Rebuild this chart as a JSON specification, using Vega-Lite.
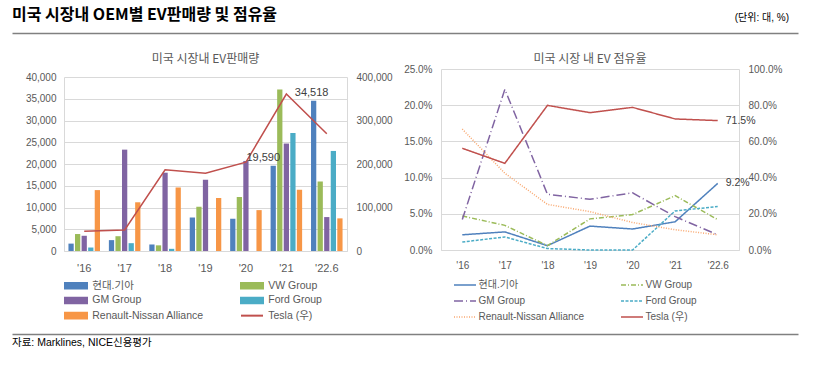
{
  "$schema": "https://vega.github.io/schema/vega-lite/v6.json",
  "background": "white",
  "padding": {"left": 12, "top": 7, "right": 5, "bottom": 5},
  "config": {
    "view": {"stroke": null},
    "font": "Liberation Sans, Noto Sans CJK KR",
    "axis": {"labelFont": "Liberation Sans, Noto Sans CJK KR", "labelColor": "#595959", "ticks": false, "title": null, "domainColor": "#D9D9D9", "gridColor": "#D9D9D9", "labelFontSize": 10},
    "legend": {"labelColor": "#595959"},
    "title": {"font": "Noto Sans CJK KR"}
  },
  "datasets": {
    "sales": [
      {"yr": "'16", "oem": "현대.기아", "sales": 1700},
      {"yr": "'16", "oem": "VW Group", "sales": 3900},
      {"yr": "'16", "oem": "GM Group", "sales": 3500},
      {"yr": "'16", "oem": "Ford Group", "sales": 800},
      {"yr": "'16", "oem": "Renault-Nissan Alliance", "sales": 14000},
      {"yr": "'16", "oem": "Tesla (우)", "sales": 45300},
      {"yr": "'17", "oem": "현대.기아", "sales": 2500},
      {"yr": "'17", "oem": "VW Group", "sales": 3400},
      {"yr": "'17", "oem": "GM Group", "sales": 23300},
      {"yr": "'17", "oem": "Ford Group", "sales": 1800},
      {"yr": "'17", "oem": "Renault-Nissan Alliance", "sales": 11200},
      {"yr": "'17", "oem": "Tesla (우)", "sales": 48400},
      {"yr": "'18", "oem": "현대.기아", "sales": 1500},
      {"yr": "'18", "oem": "VW Group", "sales": 1300},
      {"yr": "'18", "oem": "GM Group", "sales": 18000},
      {"yr": "'18", "oem": "Ford Group", "sales": 500},
      {"yr": "'18", "oem": "Renault-Nissan Alliance", "sales": 14600},
      {"yr": "'18", "oem": "Tesla (우)", "sales": 186600},
      {"yr": "'19", "oem": "현대.기아", "sales": 7700},
      {"yr": "'19", "oem": "VW Group", "sales": 10200},
      {"yr": "'19", "oem": "GM Group", "sales": 16400},
      {"yr": "'19", "oem": "Ford Group", "sales": 0},
      {"yr": "'19", "oem": "Renault-Nissan Alliance", "sales": 12200},
      {"yr": "'19", "oem": "Tesla (우)", "sales": 178900},
      {"yr": "'20", "oem": "현대.기아", "sales": 7400},
      {"yr": "'20", "oem": "VW Group", "sales": 12400},
      {"yr": "'20", "oem": "GM Group", "sales": 20700},
      {"yr": "'20", "oem": "Ford Group", "sales": 0},
      {"yr": "'20", "oem": "Renault-Nissan Alliance", "sales": 9400},
      {"yr": "'20", "oem": "Tesla (우)", "sales": 204200},
      {"yr": "'21", "oem": "현대.기아", "sales": 19590},
      {"yr": "'21", "oem": "VW Group", "sales": 37100},
      {"yr": "'21", "oem": "GM Group", "sales": 24700},
      {"yr": "'21", "oem": "Ford Group", "sales": 27100},
      {"yr": "'21", "oem": "Renault-Nissan Alliance", "sales": 14100},
      {"yr": "'21", "oem": "Tesla (우)", "sales": 360900},
      {"yr": "'22.6", "oem": "현대.기아", "sales": 34518},
      {"yr": "'22.6", "oem": "VW Group", "sales": 16000},
      {"yr": "'22.6", "oem": "GM Group", "sales": 7800},
      {"yr": "'22.6", "oem": "Ford Group", "sales": 23000},
      {"yr": "'22.6", "oem": "Renault-Nissan Alliance", "sales": 7500},
      {"yr": "'22.6", "oem": "Tesla (우)", "sales": 269500}
    ],
    "share": [
      {"yr": "'16", "company": "현대.기아", "share": 0.021},
      {"yr": "'17", "company": "현대.기아", "share": 0.025},
      {"yr": "'18", "company": "현대.기아", "share": 0.006},
      {"yr": "'19", "company": "현대.기아", "share": 0.033},
      {"yr": "'20", "company": "현대.기아", "share": 0.029},
      {"yr": "'21", "company": "현대.기아", "share": 0.039},
      {"yr": "'22.6", "company": "현대.기아", "share": 0.092},
      {"yr": "'16", "company": "VW Group", "share": 0.047},
      {"yr": "'17", "company": "VW Group", "share": 0.034},
      {"yr": "'18", "company": "VW Group", "share": 0.006},
      {"yr": "'19", "company": "VW Group", "share": 0.043},
      {"yr": "'20", "company": "VW Group", "share": 0.049},
      {"yr": "'21", "company": "VW Group", "share": 0.075},
      {"yr": "'22.6", "company": "VW Group", "share": 0.042},
      {"yr": "'16", "company": "GM Group", "share": 0.042},
      {"yr": "'17", "company": "GM Group", "share": 0.222},
      {"yr": "'18", "company": "GM Group", "share": 0.077},
      {"yr": "'19", "company": "GM Group", "share": 0.070},
      {"yr": "'20", "company": "GM Group", "share": 0.079},
      {"yr": "'21", "company": "GM Group", "share": 0.046},
      {"yr": "'22.6", "company": "GM Group", "share": 0.021},
      {"yr": "'16", "company": "Ford Group", "share": 0.011},
      {"yr": "'17", "company": "Ford Group", "share": 0.018},
      {"yr": "'18", "company": "Ford Group", "share": 0.002},
      {"yr": "'19", "company": "Ford Group", "share": 0.0},
      {"yr": "'20", "company": "Ford Group", "share": 0.0},
      {"yr": "'21", "company": "Ford Group", "share": 0.054},
      {"yr": "'22.6", "company": "Ford Group", "share": 0.060},
      {"yr": "'16", "company": "Renault-Nissan Alliance", "share": 0.167},
      {"yr": "'17", "company": "Renault-Nissan Alliance", "share": 0.106},
      {"yr": "'18", "company": "Renault-Nissan Alliance", "share": 0.063},
      {"yr": "'19", "company": "Renault-Nissan Alliance", "share": 0.053},
      {"yr": "'20", "company": "Renault-Nissan Alliance", "share": 0.038},
      {"yr": "'21", "company": "Renault-Nissan Alliance", "share": 0.028},
      {"yr": "'22.6", "company": "Renault-Nissan Alliance", "share": 0.021},
      {"yr": "'16", "company": "Tesla (우)", "share": 0.562},
      {"yr": "'17", "company": "Tesla (우)", "share": 0.479},
      {"yr": "'18", "company": "Tesla (우)", "share": 0.799},
      {"yr": "'19", "company": "Tesla (우)", "share": 0.759},
      {"yr": "'20", "company": "Tesla (우)", "share": 0.788},
      {"yr": "'21", "company": "Tesla (우)", "share": 0.724},
      {"yr": "'22.6", "company": "Tesla (우)", "share": 0.715}
    ]
  },
  "spacing": 10,
  "vconcat": [
    {
      "bounds": "flush",
      "spacing": 36,
      "vconcat": [
        {
          "width": 734,
          "height": 1,
          "title": {"text": "미국 시장내 OEM별 EV판매량 및 점유율", "anchor": "start", "dx": -52, "dy": 10, "offset": 0, "fontSize": 16, "fontWeight": "bold", "color": "#000000"},
          "data": {"values": [{"unit": "(단위: 대, %)"}]},
          "mark": {"type": "text", "align": "right", "baseline": "bottom", "dx": -9, "dy": -9, "fontSize": 10, "color": "#000000"},
          "encoding": {
            "text": {"field": "unit"},
            "x": {"datum": 1, "type": "quantitative", "scale": {"domain": [0, 1], "range": [-52, 734]}, "axis": {"domain": true, "domainColor": "#808080", "domainWidth": 1.5, "labels": false, "ticks": false, "grid": false, "title": null}},
            "y": {"value": 0}
          }
        },
        {
          "bounds": "flush",
          "spacing": 94,
          "resolve": {"scale": {"color": "independent", "strokeDash": "independent"}, "legend": {"color": "independent", "strokeDash": "independent"}},
          "hconcat": [
            {
              "width": 283,
              "height": 182,
              "title": {"text": "미국 시장내 EV판매량", "fontSize": 12, "fontWeight": "normal", "color": "#595959", "offset": 3},
              "data": {"name": "sales"},
              "resolve": {"scale": {"y": "independent"}},
              "layer": [
                {
                  "transform": [{"filter": "datum.oem !== 'Tesla (우)'"}],
                  "mark": {"type": "bar"},
                  "encoding": {
                    "x": {"field": "yr", "type": "nominal", "sort": null, "scale": {"paddingInner": 0.22, "paddingOuter": 0.11}, "axis": {"labelAngle": 0, "labelPadding": 11, "labelFontSize": 11}},
                    "xOffset": {"field": "oem", "type": "nominal", "scale": {"domain": ["현대.기아", "VW Group", "GM Group", "Ford Group", "Renault-Nissan Alliance"], "paddingInner": 0.2}},
                    "y": {"field": "sales", "type": "quantitative", "scale": {"domain": [0, 40000], "range": [182, 8], "nice": false}, "axis": {"values": [0, 5000, 10000, 15000, 20000, 25000, 30000, 35000, 40000], "format": ",d", "grid": true, "labelPadding": 8}},
                    "color": {
                      "field": "oem", "type": "nominal",
                      "scale": {"domain": ["현대.기아", "GM Group", "Renault-Nissan Alliance", "VW Group", "Ford Group", "Tesla (우)"], "range": ["#4F81BD", "#8064A2", "#F79646", "#9BBB59", "#4BACC6", "#C0504D"]},
                      "legend": {
                        "title": null, "orient": "none", "legendX": 2, "legendY": 211, "columns": 2, "columnPadding": 33, "rowPadding": 0.2,
                        "symbolSize": 64, "symbolStrokeWidth": 2, "symbolOffset": 4.75, "labelFontSize": 10.5, "labelColor": "#595959", "labelOffset": 11,
                        "encode": {"symbols": {"update": {
                          "shape": {"signal": "datum.value === 'Tesla (우)' ? 'M-2.75,0H2.75' : 'M-2.75,-0.7H2.75V0.7H-2.75Z'"},
                          "fill": {"signal": "datum.value === '현대.기아' ? '#4F81BD' : datum.value === 'VW Group' ? '#9BBB59' : datum.value === 'GM Group' ? '#8064A2' : datum.value === 'Ford Group' ? '#4BACC6' : datum.value === 'Renault-Nissan Alliance' ? '#F79646' : 'transparent'"},
                          "stroke": {"signal": "datum.value === 'Tesla (우)' ? '#C0504D' : 'transparent'"},
                          "opacity": {"value": 1},
                          "fillOpacity": {"value": 1}
                        }}}
                      }
                    }
                  }
                },
                {
                  "transform": [{"filter": "datum.oem === 'Tesla (우)'"}],
                  "mark": {"type": "line", "strokeWidth": 1.5},
                  "encoding": {
                    "x": {"field": "yr", "type": "nominal", "sort": null},
                    "y": {"field": "sales", "type": "quantitative", "scale": {"domain": [0, 400000], "range": [182, 8], "nice": false}, "axis": {"orient": "right", "values": [0, 100000, 200000, 300000, 400000], "format": ",d", "grid": false, "labelPadding": 9}},
                    "color": {"field": "oem", "type": "nominal"}
                  }
                },
                {
                  "transform": [{"filter": "datum.oem === '현대.기아' && datum.yr === \"'22.6\""}],
                  "mark": {"type": "text", "baseline": "bottom", "dy": -3, "dx": -2, "fontSize": 11, "color": "#404040"},
                  "encoding": {
                    "x": {"field": "yr", "type": "nominal", "sort": null},
                    "xOffset": {"field": "oem", "type": "nominal", "scale": {"domain": ["현대.기아", "VW Group", "GM Group", "Ford Group", "Renault-Nissan Alliance"], "paddingInner": 0.2}},
                    "y": {"field": "sales", "type": "quantitative", "scale": {"domain": [0, 40000], "range": [182, 8], "nice": false}, "axis": null},
                    "text": {"field": "sales", "type": "quantitative", "format": ","}
                  }
                },
                {
                  "transform": [{"filter": "datum.oem === '현대.기아' && datum.yr === \"'21\""}],
                  "mark": {"type": "text", "baseline": "bottom", "dy": -3, "dx": -10, "fontSize": 11, "color": "#404040"},
                  "encoding": {
                    "x": {"field": "yr", "type": "nominal", "sort": null},
                    "xOffset": {"field": "oem", "type": "nominal", "scale": {"domain": ["현대.기아", "VW Group", "GM Group", "Ford Group", "Renault-Nissan Alliance"], "paddingInner": 0.2}},
                    "y": {"field": "sales", "type": "quantitative", "scale": {"domain": [0, 40000], "range": [182, 8], "nice": false}, "axis": null},
                    "text": {"field": "sales", "type": "quantitative", "format": ","}
                  }
                }
              ]
            },
            {
              "width": 298,
              "height": 181,
              "title": {"text": "미국 시장 내 EV 점유율", "fontSize": 12, "fontWeight": "normal", "color": "#595959", "offset": -2},
              "data": {"name": "share"},
              "resolve": {"scale": {"y": "independent"}},
              "layer": [
                {
                  "transform": [{"filter": "datum.company !== 'Tesla (우)'"}],
                  "mark": {"type": "line", "strokeWidth": 1.5},
                  "encoding": {
                    "x": {"field": "yr", "type": "nominal", "sort": null, "axis": {"labelAngle": 0, "labelPadding": 10, "labelFontSize": 10}},
                    "y": {"field": "share", "type": "quantitative", "scale": {"domain": [0, 0.25], "nice": false}, "axis": {"values": [0, 0.05, 0.1, 0.15, 0.2, 0.25], "format": ".1%", "grid": true, "labelPadding": 9, "labelFontSize": 10}},
                    "color": {
                      "field": "company", "type": "nominal",
                      "scale": {"domain": ["현대.기아", "GM Group", "Renault-Nissan Alliance", "VW Group", "Ford Group", "Tesla (우)"], "range": ["#4F81BD", "#8064A2", "#F9A870", "#9BBB59", "#4BACC6", "#C0504D"]},
                      "legend": {"title": null, "orient": "none", "legendX": 16, "legendY": 211, "columns": 2, "columnPadding": 33, "rowPadding": 6, "symbolSize": 64, "symbolType": "M-2.75,0H2.75", "symbolStrokeWidth": 1.5, "symbolOffset": 3, "labelFontSize": 10, "labelColor": "#595959", "labelOffset": 8.5}
                    },
                    "strokeDash": {
                      "field": "company", "type": "nominal",
                      "scale": {"domain": ["현대.기아", "GM Group", "Renault-Nissan Alliance", "VW Group", "Ford Group", "Tesla (우)"], "range": [[1, 0], [9, 3, 1, 3], [1, 1.5], [5, 2, 1, 2], [3, 1.5], [1, 0]]},
                      "legend": {"title": null, "orient": "none", "legendX": 16, "legendY": 211, "columns": 2, "columnPadding": 33, "rowPadding": 6, "symbolSize": 64, "symbolType": "M-2.75,0H2.75", "symbolStrokeWidth": 1.5, "symbolOffset": 3, "labelFontSize": 10, "labelColor": "#595959", "labelOffset": 8.5}
                    }
                  }
                },
                {
                  "transform": [{"filter": "datum.company === 'Tesla (우)'"}],
                  "mark": {"type": "line", "strokeWidth": 1.5},
                  "encoding": {
                    "x": {"field": "yr", "type": "nominal", "sort": null},
                    "y": {"field": "share", "type": "quantitative", "scale": {"domain": [0, 1], "nice": false}, "axis": {"orient": "right", "values": [0, 0.2, 0.4, 0.6, 0.8, 1], "format": ".1%", "grid": false, "labelPadding": 9, "labelFontSize": 10}},
                    "color": {"field": "company", "type": "nominal"},
                    "strokeDash": {"field": "company", "type": "nominal"}
                  }
                },
                {
                  "transform": [{"filter": "datum.company === '현대.기아' && datum.yr === \"'22.6\""}],
                  "mark": {"type": "text", "align": "left", "baseline": "middle", "dx": 8, "fontSize": 10.5, "color": "#404040"},
                  "encoding": {
                    "x": {"field": "yr", "type": "nominal", "sort": null},
                    "y": {"field": "share", "type": "quantitative", "scale": {"domain": [0, 0.25], "nice": false}, "axis": null},
                    "text": {"field": "share", "type": "quantitative", "format": ".1%"}
                  }
                },
                {
                  "transform": [{"filter": "datum.company === 'Tesla (우)' && datum.yr === \"'22.6\""}],
                  "mark": {"type": "text", "align": "left", "baseline": "middle", "dx": 8, "fontSize": 10.5, "color": "#404040"},
                  "encoding": {
                    "x": {"field": "yr", "type": "nominal", "sort": null},
                    "y": {"field": "share", "type": "quantitative", "scale": {"domain": [0, 1], "nice": false}, "axis": null},
                    "text": {"field": "share", "type": "quantitative", "format": ".1%"}
                  }
                }
              ]
            }
          ]
        }
      ]
    },
    {
      "width": 734,
      "height": 1,
      "data": {"values": [{"src": "자료: Marklines, NICE신용평가"}]},
      "mark": {"type": "text", "align": "left", "baseline": "top", "dy": 5, "fontSize": 10.5, "color": "#000000"},
      "encoding": {
        "text": {"field": "src"},
        "x": {"datum": 0, "type": "quantitative", "scale": {"domain": [0, 1], "range": [-52, 734]}, "axis": {"domain": true, "domainColor": "#808080", "domainWidth": 1.5, "labels": false, "ticks": false, "grid": false, "title": null}},
        "y": {"value": 0}
      }
    }
  ]
}
